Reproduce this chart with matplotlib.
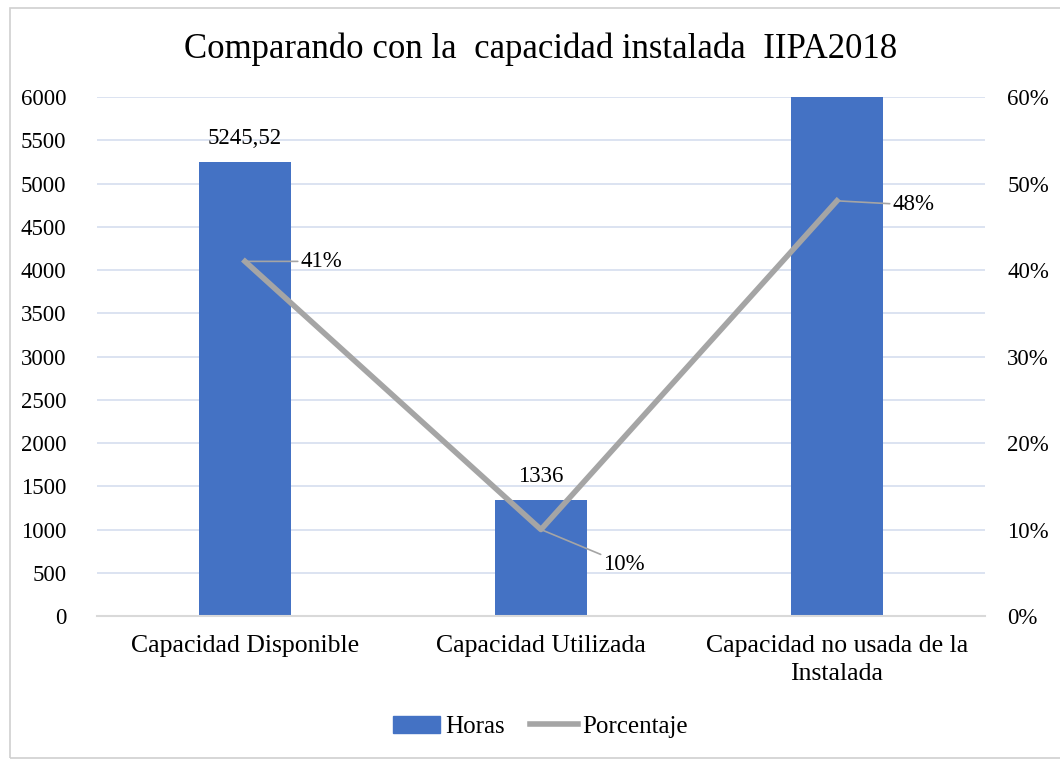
import matplotlib.pyplot as plt
from matplotlib.patches import Rectangle
from matplotlib.lines import Line2D

plt.rcParams['font.family'] = ['Liberation Serif', 'DejaVu Serif']

# 数据
categorias = ['Capacidad Disponible', 'Capacidad Utilizada', 'Capacidad no usada de la\nInstalada']
horas = [5245.52, 1336, 6250]
horas_txt = ['5245,52', '1336', '']
porcentaje = [0.41, 0.10, 0.48]
porc_txt = ['41%', '10%', '48%']
y_ticks = list(range(0, 6001, 500))
y2_ticks = [0, 0.1, 0.2, 0.3, 0.4, 0.5, 0.6]

fig = plt.figure(figsize=(10.6, 7.61), dpi=100)
fig.patches.append(Rectangle((0.009, 0.004), 1.2, 0.985, transform=fig.transFigure,
                             fill=False, edgecolor='#D0D0D0', linewidth=1.2))

ax = fig.add_axes([0.0915, 0.1905, 0.8377, 0.682])
x = range(len(categorias))
ax.bar(x, horas, width=0.31, color='#4472C4', zorder=2)
ax.set_xlim(-0.5, 2.5)
ax.set_ylim(0, 6000)
ax.set_yticks(y_ticks)
ax.set_yticklabels([str(v) for v in y_ticks], fontsize=16.5)
ax.set_xticks(list(x))
ax.set_xticklabels(categorias, fontsize=18.5, linespacing=1.35)
ax.tick_params(length=0, pad=14)
ax.tick_params(axis='y', pad=22)
ax.grid(axis='y', color='#D6DEEF', linewidth=1.2, zorder=0)
for s in ['top', 'left', 'right']:
    ax.spines[s].set_visible(False)
ax.spines['bottom'].set_color('#D9D9D9')
ax.spines['bottom'].set_linewidth(1.5)

for i, t in enumerate(horas_txt):
    if t:
        ax.text(i, horas[i] + 150, t, ha='center', va='bottom', fontsize=16.5)

ax2 = ax.twinx()
ax2.plot(list(x), porcentaje, color='#A5A5A5', linewidth=4, zorder=3)
ax2.set_ylim(0, 0.6)
ax2.set_yticks(y2_ticks)
ax2.set_yticklabels(['%d%%' % round(v * 100) for v in y2_ticks], fontsize=16.5)
ax2.tick_params(length=0, pad=16)
for s in ['top', 'left', 'right', 'bottom']:
    ax2.spines[s].set_visible(False)

# etiquetas con linea guia
offsets = [(40, 0), (45, -25), (40, -3)]
for i, t in enumerate(porc_txt):
    ax2.annotate(t, xy=(i, porcentaje[i]), xytext=offsets[i], textcoords='offset points',
                 ha='left', va='center', fontsize=16.5,
                 arrowprops=dict(arrowstyle='-', color='#A5A5A5', linewidth=1.2,
                                 shrinkA=0, shrinkB=0))

fig.text(0.51, 0.935, 'Comparando con la  capacidad instalada  IIPA2018',
         ha='center', va='center', fontsize=25)

handles = [Rectangle((0, 0), 1, 1, color='#4472C4'),
           Line2D([0], [0], color='#A5A5A5', linewidth=4)]
fig.legend(handles, ['Horas', 'Porcentaje'], loc='center', bbox_to_anchor=(0.51, 0.045),
           ncol=2, frameon=False, fontsize=18, handlelength=1.9, columnspacing=1.0,
           handletextpad=0.2)

fig.savefig('out.png', dpi=100)
